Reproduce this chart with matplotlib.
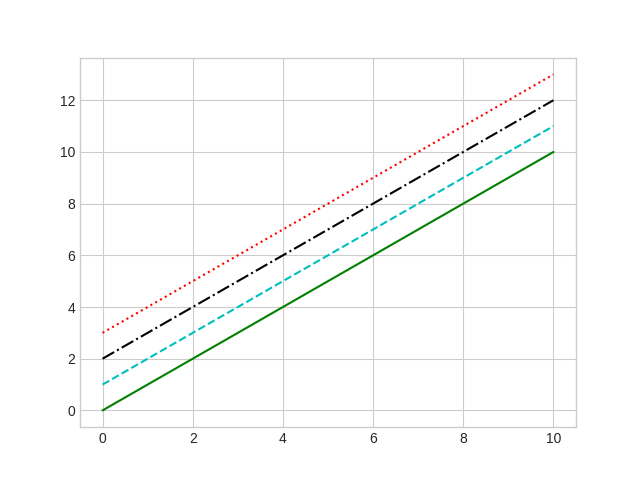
import matplotlib
matplotlib.use("Agg")
import matplotlib.pyplot as plt

plt.style.use('seaborn-v0_8-whitegrid')

x = [0, 10]
y_solid = [0, 10]
y_dashed = [1, 11]
y_dashdot = [2, 12]
y_dotted = [3, 13]

fig = plt.figure(figsize=(6.4, 4.8), dpi=100)
ax = plt.axes()
ax.plot(x, y_solid, '-g')
ax.plot(x, y_dashed, '--c')
ax.plot(x, y_dashdot, '-.k')
ax.plot(x, y_dotted, ':r')

fig.savefig('out.png')
